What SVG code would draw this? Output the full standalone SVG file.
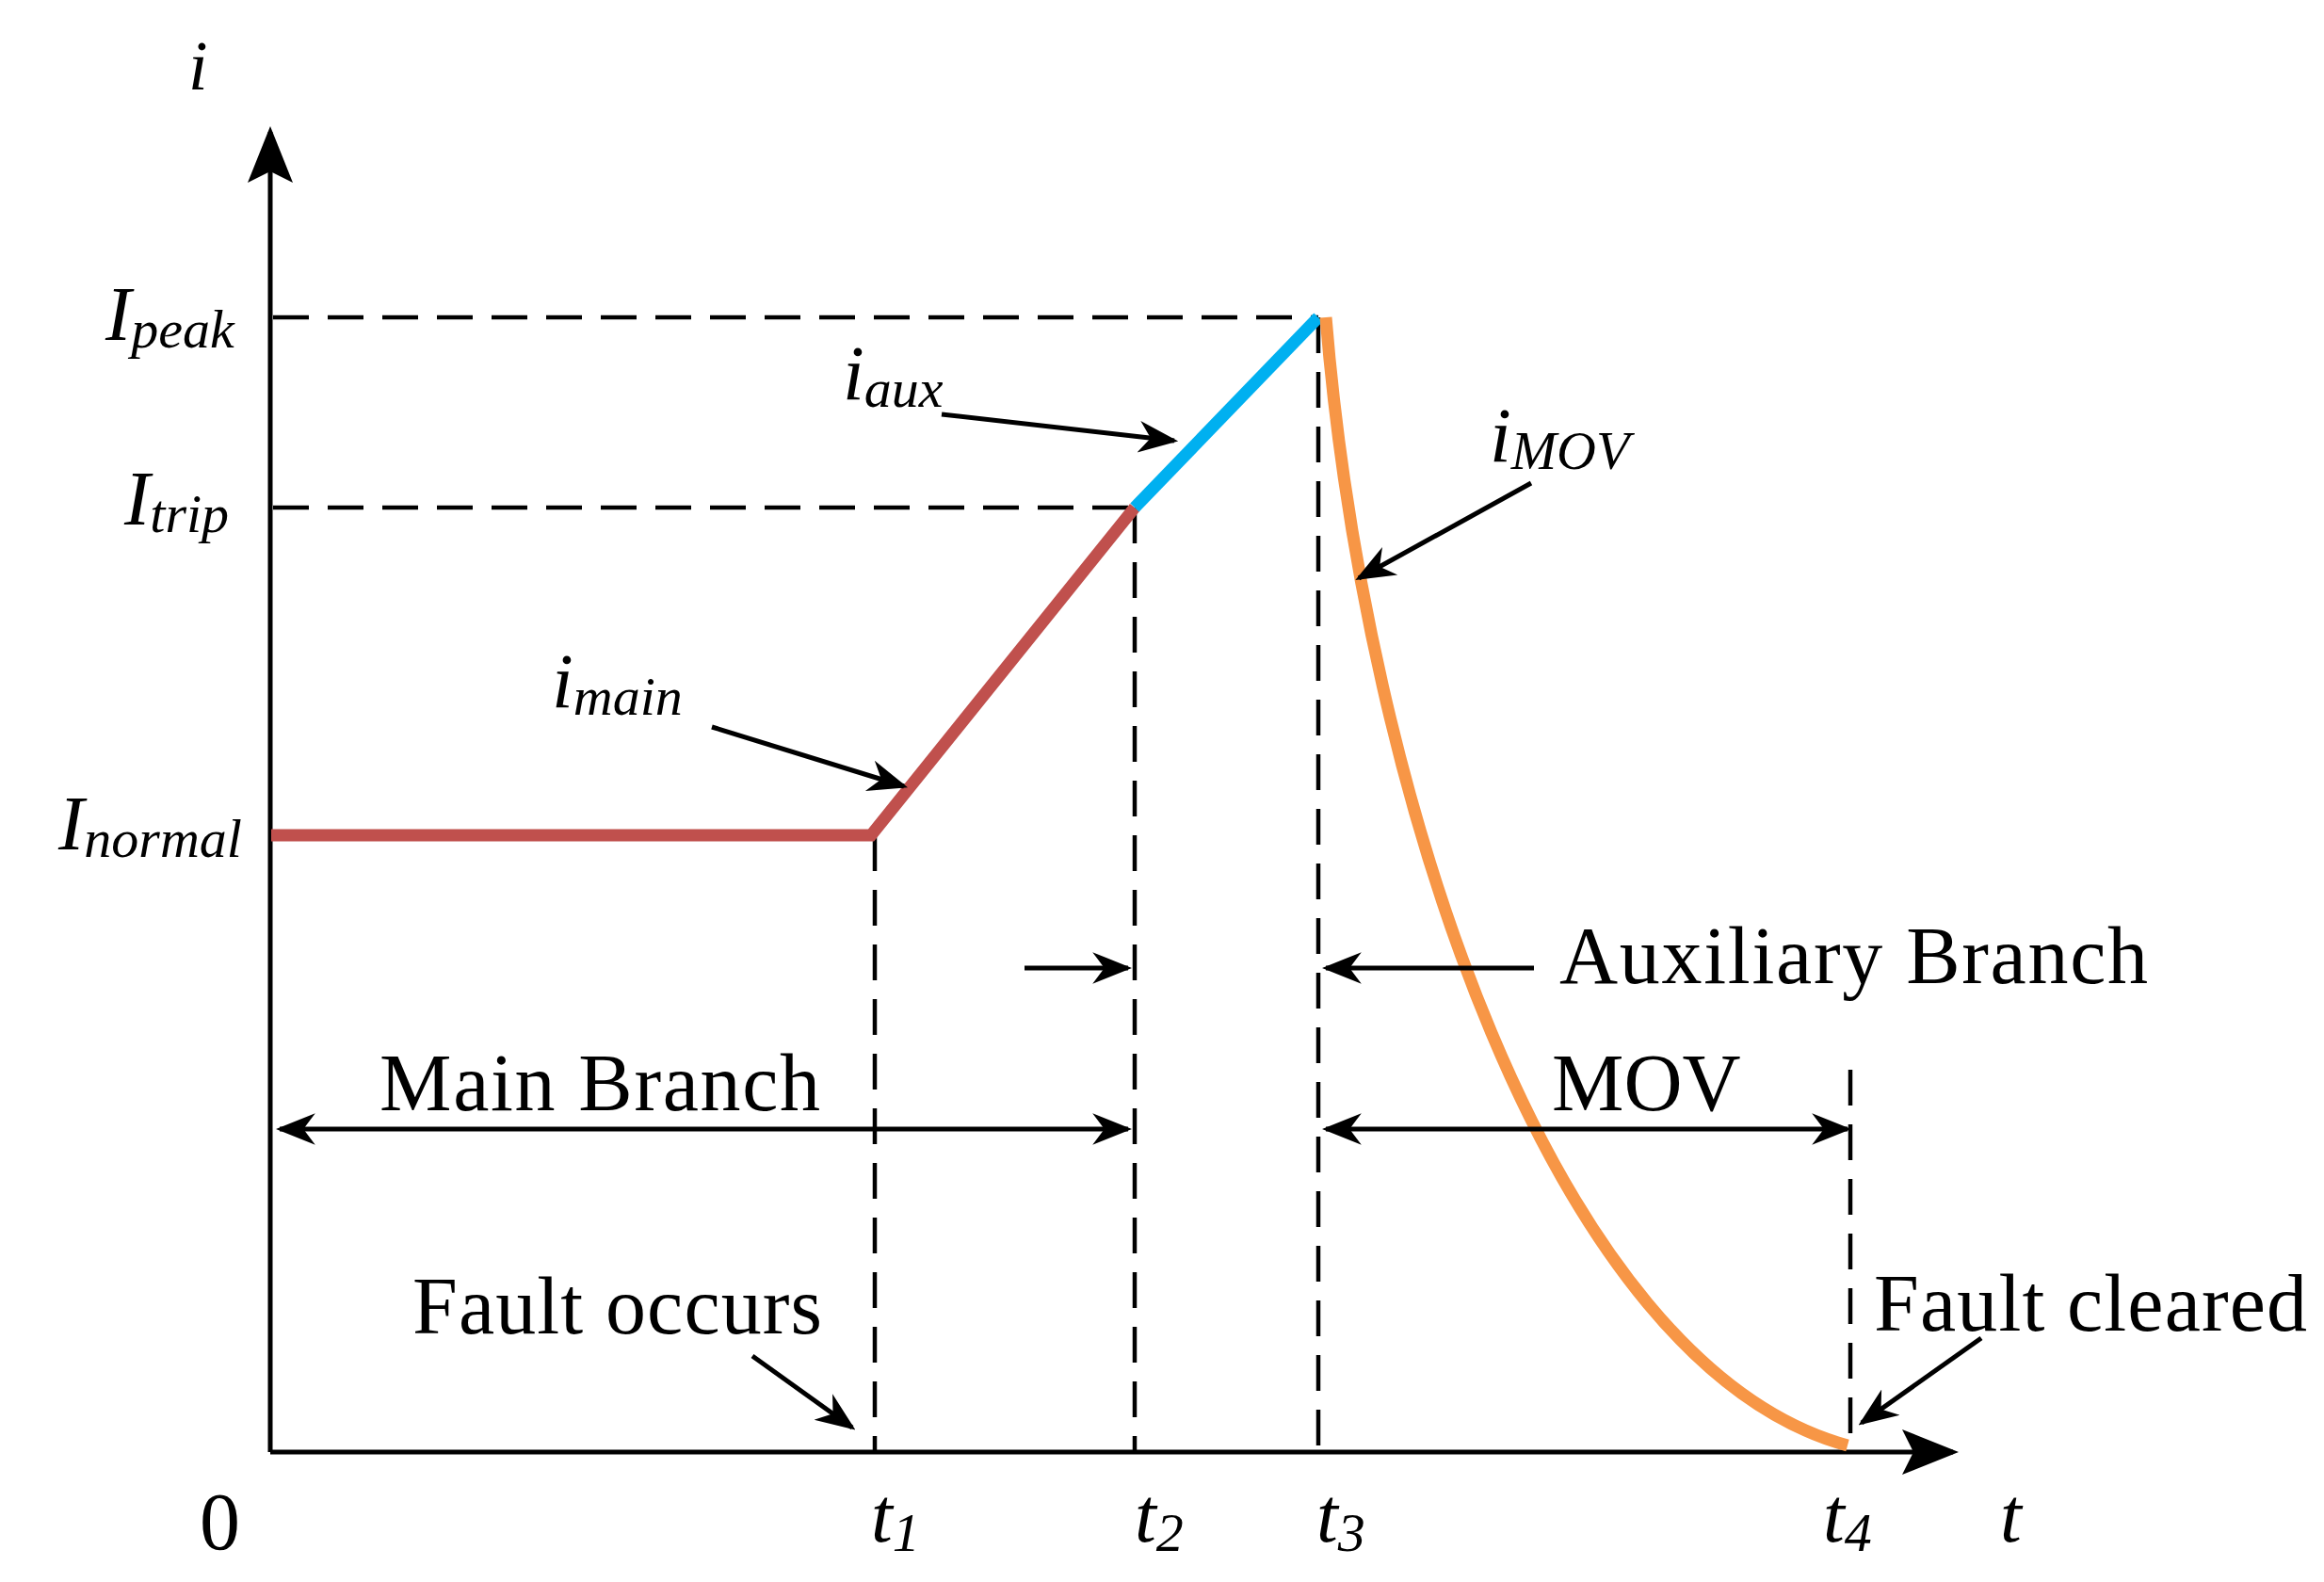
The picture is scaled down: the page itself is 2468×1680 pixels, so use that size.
<svg xmlns="http://www.w3.org/2000/svg" width="2468" height="1680" viewBox="0 0 2468 1680">
<style>
.ax{stroke:#000;stroke-width:5;fill:none}
.ds{stroke:#000;stroke-width:4.5;fill:none;stroke-dasharray:38 20}
.ar{stroke:#000;stroke-width:5;fill:none}
.it{font-family:"Liberation Serif",serif;font-style:italic;fill:#000}
.tx{font-family:"Liberation Serif",serif;fill:#000;font-size:86px}
</style>
<defs>
<marker id="ah2" viewBox="0 0 10 10" refX="9" refY="5" markerWidth="42" markerHeight="42" markerUnits="userSpaceOnUse" orient="auto-start-reverse"><path d="M0,1 L10,5 L0,9 L3,5 Z" fill="#000"/></marker>
<marker id="big" viewBox="0 0 10 10" refX="9" refY="5" markerWidth="60" markerHeight="60" markerUnits="userSpaceOnUse" orient="auto"><path d="M0,1 L10,5 L0,9 L2,5 Z" fill="#000"/></marker>
</defs>
<rect width="2468" height="1680" fill="#fff"/>
<g id="axes">
<line class="ax" x1="287" y1="1542" x2="287" y2="140" marker-end="url(#big)"/>
<line class="ax" x1="287" y1="1542" x2="2074" y2="1542" marker-end="url(#big)"/>
</g>
<g id="guides">
<line class="ds" x1="290" y1="337" x2="1400" y2="337"/>
<line class="ds" x1="290" y1="539" x2="1205" y2="539"/>
<line class="ds" x1="929" y1="887" x2="929" y2="1542"/>
<line class="ds" x1="1205" y1="539" x2="1205" y2="1542"/>
<line class="ds" x1="1400" y1="337" x2="1400" y2="1542"/>
<line class="ds" x1="1965" y1="1136" x2="1965" y2="1542"/>
</g>
<g id="curves">
<polyline points="288,887 925,887 1205,539" stroke="#C0504D" stroke-width="13" fill="none"/>
<line x1="1205" y1="539" x2="1400" y2="337" stroke="#00B0F0" stroke-width="13"/>
<path d="M1408,337 C1450,850 1650,1450 1962,1535" stroke="#F79646" stroke-width="13" fill="none"/>
</g>
<g id="connectors">
<line class="ar" x1="297" y1="1199" x2="1198" y2="1199" marker-start="url(#ah2)" marker-end="url(#ah2)"/>
<line class="ar" x1="1408" y1="1199" x2="1962" y2="1199" marker-start="url(#ah2)" marker-end="url(#ah2)"/>
<line class="ar" x1="1629" y1="1028" x2="1408" y2="1028" marker-end="url(#ah2)"/>
<line class="ar" x1="1088" y1="1028" x2="1198" y2="1028" marker-end="url(#ah2)"/>
<line class="ar" x1="1000" y1="440" x2="1247" y2="468" marker-end="url(#ah2)"/>
<line class="ar" x1="756" y1="772" x2="960" y2="835" marker-end="url(#ah2)"/>
<line class="ar" x1="1626" y1="513" x2="1443" y2="614" marker-end="url(#ah2)"/>
<line class="ar" x1="799" y1="1440" x2="905" y2="1516" marker-end="url(#ah2)"/>
<line class="ar" x1="2104" y1="1421" x2="1977" y2="1511" marker-end="url(#ah2)"/>
</g>
<g id="labels">
<text class="it" x="200" y="95" font-size="74">i</text>
<text class="it" x="112" y="361" font-size="82">I<tspan font-size="58" dy="8">peak</tspan></text>
<text class="it" x="132" y="557" font-size="82">I<tspan font-size="58" dy="8">trip</tspan></text>
<text class="it" x="62" y="902" font-size="82">I<tspan font-size="58" dy="8">normal</tspan></text>
<text class="it" x="895" y="424" font-size="82">i<tspan font-size="58" dy="8">aux</tspan></text>
<text class="it" x="586" y="751" font-size="82">i<tspan font-size="58" dy="8">main</tspan></text>
<text class="it" x="1582" y="490" font-size="82">i<tspan font-size="58" dy="8">MOV</tspan></text>
<text class="tx" x="403" y="1179" textLength="468">Main Branch</text>
<text class="tx" x="1656" y="1044" textLength="625">Auxiliary Branch</text>
<text class="tx" x="1648" y="1179">MOV</text>
<text class="tx" x="438" y="1416" textLength="435">Fault occurs</text>
<text class="tx" x="1990" y="1413" textLength="460">Fault cleared</text>
<text class="tx" x="212" y="1645" font-size="78">0</text>
<text class="it" x="925" y="1637" font-size="82">t<tspan font-size="58" dy="10">1</tspan></text>
<text class="it" x="1205" y="1637" font-size="82">t<tspan font-size="58" dy="10">2</tspan></text>
<text class="it" x="1398" y="1637" font-size="82">t<tspan font-size="58" dy="10">3</tspan></text>
<text class="it" x="1936" y="1637" font-size="82">t<tspan font-size="58" dy="10">4</tspan></text>
<text class="it" x="2124" y="1637" font-size="82">t</text>
</g>
</svg>
